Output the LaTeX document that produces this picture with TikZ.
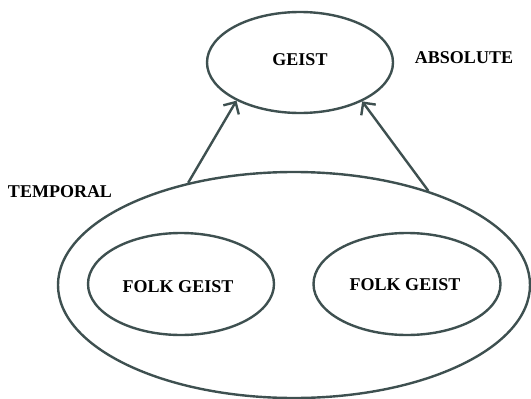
\documentclass[tikz,border=0pt]{standalone}
\usepackage{fontspec}
\setmainfont{Liberation Serif}
\usetikzlibrary{shapes.geometric,arrows.meta}
\definecolor{slate}{HTML}{3E5050}
\tikzset{
  oval/.style={ellipse, draw=slate, line width=2.4pt, inner sep=0pt},
  lbl/.style={font=\fontsize{18}{21}\selectfont\bfseries, text=black, inner sep=0pt},
  link/.style={draw=slate, line width=2.4pt, -{Straight Barb[length=9pt,width=18pt]}}
}
\begin{document}
\begin{tikzpicture}[x=1pt,y=1pt]
  \useasboundingbox (0,0) rectangle (531,-399);
  % outer temporal region and the two folk spirits inside it
  \node[oval, minimum width=472pt, minimum height=226pt] (world) at (294,-285) {};
  \node[oval, minimum width=186pt, minimum height=102pt] (folkL) at (181,-284) {};
  \node[oval, minimum width=187pt, minimum height=102pt] (folkR) at (407,-284) {};
  \node[lbl] (folkLtxt) at (178,-287) {FOLK GEIST};
  \node[lbl] (folkRtxt) at (405,-285) {FOLK GEIST};
  % absolute spirit
  \node[oval, minimum width=186pt, minimum height=101pt] (geist) at (300,-62.5) {};
  \node[lbl] (geisttxt) at (300,-60) {GEIST};
  % side labels
  \node[lbl] (absolute) at (464,-58) {ABSOLUTE};
  \node[lbl] (temporal) at (60,-192) {TEMPORAL};
  % ascent from the temporal to the absolute
  \draw[link] (world.136.7) -- (geist.211.9);
  \draw[link] (world.35.4) -- (geist.328.2);
\end{tikzpicture}
\end{document}
